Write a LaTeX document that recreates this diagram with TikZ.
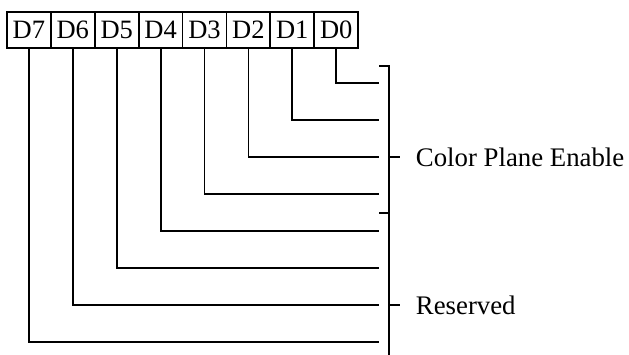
\documentclass[tikz,border=0pt]{standalone}
\usepackage{fontspec}
\setmainfont{Liberation Serif}
\usetikzlibrary{positioning}

\begin{document}
\begin{tikzpicture}[x=1pt, y=-1pt, line width=1.8pt, node distance=0pt,
  bit/.style={draw, minimum width=43.9pt, minimum height=36pt, inner sep=0pt, outer sep=0pt, font=\fontsize{26.5}{30}\selectfont},
  lbl/.style={anchor=west, inner sep=0pt, font=\fontsize{26.8}{30}\selectfont}]
  \useasboundingbox (0,0) rectangle (629,355);

  % register bits
  \node[bit] (d7) at (28.9,30) {D7};
  \node[bit] (d6) [right=of d7] {D6};
  \node[bit] (d5) [right=of d6] {D5};
  \node[bit] (d4) [right=of d5] {D4};
  \node[bit] (d3) [right=of d4] {D3};
  \node[bit] (d2) [right=of d3] {D2};
  \node[bit] (d1) [right=of d2] {D1};
  \node[bit] (d0) [right=of d1] {D0};

  % bit lines
  \foreach \i/\y in {0/83,1/120,2/157,3/194,4/231,5/268,6/305,7/342} {
    \coordinate (e\i) at (379,\y);
    \draw (d\i.south) |- (e\i);
  }

  % brackets
  \coordinate (b1) at (389,66);
  \coordinate (b2) at (389,213);
  \coordinate (b3) at (389,355);
  \draw ([xshift=-10pt]b1) -- (b1) -- (b3);
  \draw ([xshift=-10pt]b2) -- (b2);

  \node[lbl] (cpe) at (415,157) {Color Plane Enable};
  \node[lbl] (res) at (415,305) {Reserved};
  \draw (b1 |- cpe.west) -- +(11,0);
  \draw (b1 |- res.west) -- +(11,0);
\end{tikzpicture}
\end{document}
